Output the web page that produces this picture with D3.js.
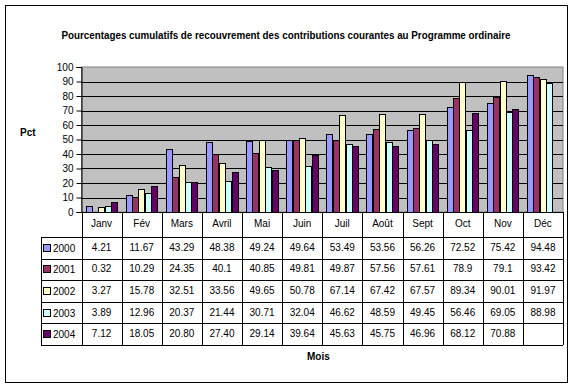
<!DOCTYPE html>
<html>
<head>
<meta charset="utf-8">
<script src="https://cdn.jsdelivr.net/npm/d3@7"></script>
<style>
  body { margin: 0; background: #fff; }
  svg { display: block; font-family: "Liberation Sans Narrow", "Liberation Sans", Arial, sans-serif; }
</style>
</head>
<body>
<script>
// données
var MOIS = ["Janv", "Fév", "Mars", "Avril", "Mai", "Juin", "Juil", "Août", "Sept", "Oct", "Nov", "Déc"];
var ANNEES = ["2000", "2001", "2002", "2003", "2004"];
var COULEURS = ["#9999ff", "#993366", "#ffffcc", "#ccffff", "#660066"];
var TICKS = [0, 10, 20, 30, 40, 50, 60, 70, 80, 90, 100];

var v2000 = [4.21, 11.67, 43.29, 48.38, 49.24, 49.64, 53.49, 53.56, 56.26, 72.52, 75.42, 94.48];
var v2001 = [0.32, 10.29, 24.35, 40.1, 40.85, 49.81, 49.87, 57.56, 57.61, 78.9, 79.1, 93.42];
var v2002 = [3.27, 15.78, 32.51, 33.56, 49.65, 50.78, 67.14, 67.42, 67.57, 89.34, 90.01, 91.97];
var v2003 = [3.89, 12.96, 20.37, 21.44, 30.71, 32.04, 46.62, 48.59, 49.45, 56.46, 69.05, 88.98];
var v2004 = [7.12, 18.05, 20.80, 27.40, 29.14, 39.64, 45.63, 45.75, 46.96, 68.12, 70.88, null];
// libellés du tableau tels qu'affichés
var lib2004 = ["7.12", "18.05", "20.80", "27.40", "29.14", "39.64", "45.63", "45.75", "46.96", "68.12", "70.88", ""];

var series = [v2000, v2001, v2002, v2003, v2004].map(function (vals, i) {
  return { annee: ANNEES[i], couleur: COULEURS[i], valeurs: vals };
});

var W = 578, H = 388;
var plot = { left: 81.5, right: 563, top: 67, bottom: 212 };
var rowH = 21.6, headH = 25;
var tableTop = plot.bottom + headH;
var tableLeft = 41;

var svg = d3.select("body").append("svg").attr("width", W).attr("height", H);

// cadre
svg.append("rect").attr("x", 5.5).attr("y", 5.5).attr("width", 562).attr("height", 377)
  .attr("fill", "#fff").attr("stroke", "#000");

svg.append("text").attr("x", 286).attr("y", 39).attr("text-anchor", "middle")
  .attr("font-size", 11).attr("font-weight", "bold")
  .attr("textLength", 449).attr("lengthAdjust", "spacingAndGlyphs")
  .text("Pourcentages cumulatifs de recouvrement des contributions courantes au Programme ordinaire");

var x = d3.scaleBand().domain(MOIS).range([plot.left, plot.right]);
var x1 = d3.scaleBand().domain(ANNEES).range([4, x.bandwidth() - 4]);
var y = d3.scaleLinear().domain([0, 100]).range([plot.bottom, plot.top]);

// fond gris
svg.append("rect").attr("x", plot.left).attr("y", plot.top)
  .attr("width", plot.right - plot.left).attr("height", plot.bottom - plot.top)
  .attr("fill", "#c0c0c0").attr("stroke", "#808080");

svg.selectAll(".grid").data(TICKS.filter(function (t) { return t > 0 && t < 100; })).enter()
  .append("line").attr("class", "grid")
  .attr("x1", plot.left).attr("x2", plot.right)
  .attr("y1", function (d) { return Math.round(y(d)) + 0.5; })
  .attr("y2", function (d) { return Math.round(y(d)) + 0.5; })
  .attr("stroke", "#000");

// barres
var groupes = svg.selectAll(".serie").data(series).enter().append("g").attr("class", "serie");
groupes.selectAll("rect").data(function (s) {
  return s.valeurs.map(function (v, j) { return { mois: MOIS[j], v: v, annee: s.annee, couleur: s.couleur }; })
    .filter(function (d) { return d.v !== null; });
}).enter().append("rect")
  .attr("x", function (d) { return Math.round(x(d.mois) + x1(d.annee)) + 0.5; })
  .attr("y", function (d) { return Math.round(y(d.v)) + 0.5; })
  .attr("width", Math.round(x1.bandwidth()))
  .attr("height", function (d) { return Math.max(0, Math.round(plot.bottom - y(d.v))); })
  .attr("fill", function (d) { return d.couleur; })
  .attr("stroke", "#000").attr("stroke-width", 1);

// axe y
var axeY = svg.append("g").attr("transform", "translate(" + plot.left + ",0)")
  .call(d3.axisLeft(y).tickValues(TICKS).tickSize(5).tickPadding(3).tickFormat(d3.format("d")));
axeY.select(".domain").attr("stroke", "#000");
axeY.selectAll("text").attr("font-size", 10).attr("font-family", "inherit").attr("fill", "#000");

svg.append("text").attr("x", 20).attr("y", 136).attr("font-size", 10).attr("font-weight", "bold").text("Pct");

// tableau de données
var tableBottom = tableTop + rowH * ANNEES.length;
svg.append("line").attr("x1", plot.left).attr("x2", plot.right).attr("y1", plot.bottom + 0.5).attr("y2", plot.bottom + 0.5).attr("stroke", "#000");
svg.selectAll(".vline").data(MOIS.concat(["fin"])).enter().append("line").attr("class", "vline")
  .attr("x1", function (d, i) { return Math.round(plot.left + i * x.bandwidth()) + 0.5; })
  .attr("x2", function (d, i) { return Math.round(plot.left + i * x.bandwidth()) + 0.5; })
  .attr("y1", plot.bottom).attr("y2", tableBottom)
  .attr("stroke", "#000");
svg.selectAll(".hline").data(d3.range(ANNEES.length + 1)).enter().append("line").attr("class", "hline")
  .attr("x1", tableLeft).attr("x2", plot.right)
  .attr("y1", function (i) { return Math.round(tableTop + i * rowH) + 0.5; })
  .attr("y2", function (i) { return Math.round(tableTop + i * rowH) + 0.5; })
  .attr("stroke", "#000");
svg.append("line").attr("x1", tableLeft + 0.5).attr("x2", tableLeft + 0.5)
  .attr("y1", tableTop).attr("y2", tableBottom).attr("stroke", "#000");

svg.selectAll(".mois").data(MOIS).enter().append("text").attr("class", "mois")
  .attr("x", function (d) { return x(d) + x.bandwidth() / 2; })
  .attr("y", plot.bottom + 15).attr("text-anchor", "middle").attr("font-size", 10)
  .text(function (d) { return d; });

series.forEach(function (s, i) {
  var cy = tableTop + i * rowH + rowH / 2;
  svg.append("rect").attr("x", 43.5).attr("y", Math.round(cy - 4) + 0.5).attr("width", 7).attr("height", 7)
    .attr("fill", s.couleur).attr("stroke", "#000");
  svg.append("text").attr("x", 53).attr("y", cy + 4).attr("font-size", 10).text(s.annee);
  svg.selectAll(".val" + i).data(s.valeurs).enter().append("text")
    .attr("x", function (d, j) { return x(MOIS[j]) + x.bandwidth() / 2; })
    .attr("y", cy + 3).attr("text-anchor", "middle").attr("font-size", 10)
    .text(function (d, j) { return s.annee === "2004" ? lib2004[j] : (d === null ? "" : String(d)); });
});

svg.append("text").attr("x", 307).attr("y", 360).attr("font-size", 10).attr("font-weight", "bold").text("Mois");
</script>
</body>
</html>
